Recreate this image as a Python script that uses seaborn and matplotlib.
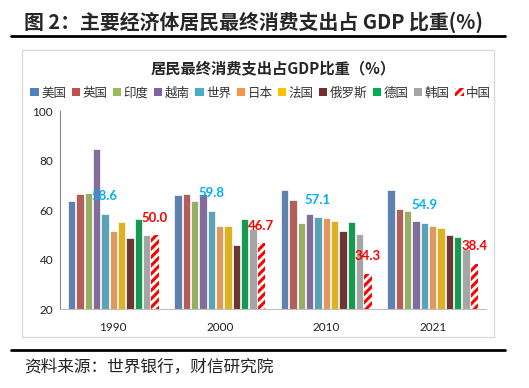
import matplotlib
matplotlib.use("Agg")
import matplotlib.pyplot as plt
from matplotlib.patches import Patch, Rectangle
from matplotlib.lines import Line2D
import pandas as pd
import seaborn as sns

years = ["1990", "2000", "2010", "2021"]
countries = ["美国", "英国", "印度", "越南", "世界", "日本", "法国", "俄罗斯", "德国", "韩国", "中国"]

usa = [63.8, 66.0, 68.3, 68.3]
uk = [66.7, 66.4, 64.0, 60.4]
india = [67.1, 63.8, 54.7, 59.5]
vietnam = [84.8, 66.5, 58.4, 55.5]
world = [58.6, 59.8, 57.1, 54.9]
japan = [51.4, 53.6, 56.8, 53.7]
france = [55.2, 53.7, 55.5, 52.6]
russia = [48.9, 46.1, 51.6, 49.9]
germany = [56.3, 56.3, 55.1, 49.3]
korea = [50.1, 52.5, 50.3, 44.3]
china = [50.0, 46.7, 34.3, 38.4]

colors = ["#4F81BD", "#C0504D", "#9BBB59", "#8064A2", "#4BACC6", "#F79646",
          "#FFC000", "#772C2A", "#00B050", "#A5A5A5", "#FFFFFF"]

series = [usa, uk, india, vietnam, world, japan, france, russia, germany, korea, china]
rows = []
for name, vals in zip(countries, series):
    for y, v in zip(years, vals):
        rows.append({"year": y, "country": name, "value": v})
df = pd.DataFrame(rows)

sns.set_style("white")
plt.rcParams["font.family"] = ["Noto Sans CJK SC", "DejaVu Sans"]
plt.rcParams["hatch.linewidth"] = 2.2

fig = plt.figure(figsize=(5.29, 3.88), dpi=100)
ax = fig.add_axes([60 / 529, 1 - 309.3 / 388, 426 / 529, 198.3 / 388])

sns.barplot(data=df, x="year", y="value", hue="country", order=years,
            hue_order=countries, palette=colors, width=0.86, gap=0.12,
            edgecolor="white", linewidth=0.5, legend=False, ax=ax)

# China bars: red diagonal stripes
for bar in ax.containers[-1]:
    bar.set_facecolor("white")
    bar.set_edgecolor("#FF0000")
    bar.set_linewidth(0)
    bar.set_hatch("////")

# value labels for World and China
for cont, col in [(ax.containers[4], "#00B0F0"), (ax.containers[-1], "#FF0000")]:
    for bar in cont:
        h = bar.get_height()
        ax.annotate(f"{h:.1f}", (bar.get_x() + bar.get_width() / 2, h),
                    xytext=(0, 12.5), textcoords="offset points",
                    ha="center", va="center", color=col, fontsize=9.5,
                    fontweight="bold", family=["Lato", "DejaVu Sans"])

ax.set_ylim(20, 100)
ax.set_yticks([20, 40, 60, 80, 100])
ax.set_xlabel("")
ax.set_ylabel("")
for s in ["top", "right"]:
    ax.spines[s].set_visible(False)
ax.spines["left"].set_color("#868686")
ax.spines["bottom"].set_color("#BFBFBF")
ax.tick_params(axis="y", length=3, color="#868686", labelsize=8.5, pad=2)
ax.tick_params(axis="x", length=0, labelsize=8.5, pad=9)
for lab in ax.get_xticklabels() + ax.get_yticklabels():
    lab.set_family(["Lato", "DejaVu Sans"])
    lab.set_color("#222222")

# legend
handles = [Patch(facecolor=c, edgecolor="none") for c in colors[:-1]]
handles.append(Patch(facecolor="white", edgecolor="#FF0000", hatch="////", linewidth=0))
fig.legend(handles, countries, loc="center", bbox_to_anchor=(0.493, 1 - 93 / 388),
           ncol=11, frameon=False, fontsize=9, handlelength=0.65, handleheight=0.65,
           handletextpad=0.2, columnspacing=0.45, borderpad=0, labelcolor="#333333")

# chart frame and inner title
fig.patches.append(Rectangle((22 / 529, 1 - 337 / 388), 472 / 529, 287 / 388,
                             transform=fig.transFigure, fill=False,
                             edgecolor="#D9D9D9", linewidth=1))
fig.text(273 / 529, 1 - 68 / 388, "居民最终消费支出占GDP比重（%）", ha="center",
         va="center", fontsize=11, fontweight="bold")

# report title, rules and source
fig.text(24 / 529, 1 - 22 / 388, "图 2：主要经济体居民最终消费支出占 GDP 比重(%)",
         ha="left", va="center", fontsize=14.3, fontweight="bold")
fig.lines.append(Line2D([11 / 529, 505 / 529], [1 - 36 / 388] * 2,
                        transform=fig.transFigure, color="black", linewidth=2))
fig.lines.append(Line2D([11 / 529, 505 / 529], [1 - 350 / 388] * 2,
                        transform=fig.transFigure, color="black", linewidth=2))
fig.text(24 / 529, 1 - 367 / 388, "资料来源：世界银行，财信研究院", ha="left",
         va="center", fontsize=12, color="#222222")

fig.savefig("out.png", dpi=100)
